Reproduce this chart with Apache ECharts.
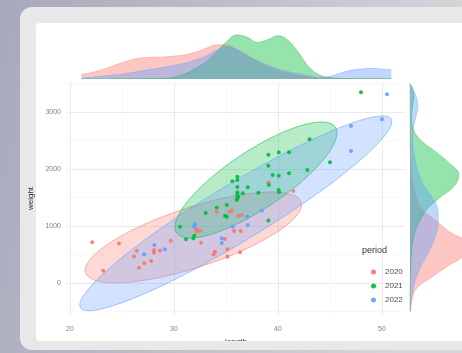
<!DOCTYPE html>
<html>
<head>
<meta charset="utf-8">
<script src="https://cdn.jsdelivr.net/npm/echarts@6/dist/echarts.min.js"></script>
<style>
  html, body { margin: 0; padding: 0; }
  #chart { width: 462px; height: 353px; }
</style>
</head>
<body>
<div id="chart"></div>
<script>
var periods = ['2020', '2021', '2022'];

var length2020 = [22.14, 24.71, 23.20, 26.42, 26.15, 28.08, 28.08, 28.65, 29.68, 27.79, 27.14, 26.63, 32.12, 32.18, 32.50, 32.60, 34.11, 35.32, 35.55, 36.18, 36.51, 35.77, 36.41, 34.90, 35.13, 33.94, 35.13, 36.35, 41.47, 39.07, 33.80];
var weight2020 = [714, 693, 216, 567, 465, 579, 535, 570, 742, 386, 346, 268, 942, 900, 917, 707, 1251, 1251, 1268, 1180, 1193, 912, 912, 772, 591, 549, 461, 538, 1614, 1763, 500];

var length2021 = [30.58, 31.15, 31.86, 31.95, 33.05, 34.11, 35.07, 34.90, 35.07, 36.18, 36.03, 39.07, 43.03, 39.07, 40.07, 41.06, 45.00, 42.82, 39.07, 39.49, 40.07, 41.06, 36.09, 36.09, 35.61, 39.13, 36.09, 37.09, 36.09, 36.09, 36.09, 38.11, 40.07, 40.10, 36.61, 47.98];
var weight2021 = [988, 767, 784, 830, 1228, 1324, 1368, 1180, 1163, 1514, 1456, 1096, 2522, 2250, 2292, 2292, 2117, 1982, 2057, 1894, 1882, 1924, 1865, 1807, 1784, 1719, 1684, 1679, 1591, 1544, 1486, 1584, 1631, 1591, 1573, 3345];

var length2022 = [27.12, 28.11, 29.13, 32.02, 31.92, 34.59, 34.59, 35.64, 37.05, 37.09, 38.46, 47.02, 47.02, 50.00, 50.48];
var weight2022 = [503, 667, 591, 1030, 991, 784, 702, 988, 1163, 1017, 1272, 2754, 2315, 2871, 3310];

// ellipse: [center length, center weight, half-axis length, half-axis weight, vertical half-chord]
var ellipse2020 = [31.87, 800, 10.4, 575, 550];
var ellipse2021 = [37.88, 1807, 7.79, 824, 596];
var ellipse2022 = [35.94, 1223, 15.0, 1606, 579];

// marginal density of length (top)
var densityX = [21.1, 23, 25, 27, 29, 30, 31, 32, 33, 34, 35, 36, 37, 38, 39, 40, 41, 42, 43, 44, 45, 46, 47, 48, 49, 50, 50.9];
var densityX2020 = [13, 27, 49, 64, 66, 69, 72, 80, 91, 102, 103, 88, 73, 53, 38, 26, 17, 11, 6, 3, 2, 1, 1, 1, 0.5, 0.3, 0.3];
var densityX2021 = [0, 0, 0.5, 1, 2, 5, 15, 30, 50, 78, 110, 132, 126, 110, 118, 130, 115, 78, 35, 12, 4, 2, 1, 1, 1, 1, 1];
var densityX2022 = [2, 8, 15, 25, 35, 41, 47, 57, 68, 85, 96, 90, 70, 55, 42, 30, 22, 16, 10, 4, 8, 18, 26, 30, 32, 30, 28];

// marginal density of weight (right)
var densityY = ['-500', '-300', '-100', '100', '300', '500', '700', '900', '1100', '1300', '1500', '1700', '1900', '2100', '2300', '2500', '2700', '2900', '3100', '3300', '3500'];
var densityY2020 = [2, 6, 20, 68, 120, 170, 175, 125, 80, 38, 20, 12, 5, 3, 1, 0, 0, 0, 0, 0, 0];
var densityY2021 = [0, 0, 0, 1, 2, 4, 8, 16, 32, 55, 95, 140, 155, 125, 82, 35, 10, 5, 8, 12, 0];
var densityY2022 = [1, 4, 10, 20, 35, 55, 72, 85, 90, 88, 70, 45, 28, 18, 12, 8, 10, 18, 25, 18, 0];

var COLORS = ['#F8766D', '#00BA38', '#619CFF'];
var FONT = 'Liberation Sans, Arial, sans-serif';

function zip(a, b) {
    var out = [];
    for (var i = 0; i < a.length; i++) out.push([a[i], b[i]]);
    return out;
}

function ellipseSeries(name, params, color) {
    return {
        type: 'custom',
        name: name,
        xAxisIndex: 0,
        yAxisIndex: 0,
        z: 1,
        silent: true,
        data: [params],
        encode: { x: 0, y: 1 },
        renderItem: function (p, api) {
            var cx = api.value(0), cy = api.value(1), ux = api.value(2), uy = api.value(3), vy = api.value(4);
            var pts = [];
            for (var k = 0; k < 90; k++) {
                var t = k / 90 * Math.PI * 2;
                pts.push(api.coord([cx + ux * Math.cos(t), cy + uy * Math.cos(t) + vy * Math.sin(t)]));
            }
            return {
                type: 'polygon',
                shape: { points: pts },
                style: { fill: echarts.color.modifyAlpha(color, 0.28), stroke: echarts.color.modifyAlpha(color, 0.7), lineWidth: 0.8 }
            };
        }
    };
}

function scatterSeries(name, xs, ys, color) {
    return {
        type: 'scatter',
        name: name,
        xAxisIndex: 0,
        yAxisIndex: 0,
        z: 3,
        symbolSize: 4,
        itemStyle: { color: color, opacity: 0.9 },
        data: zip(xs, ys)
    };
}

function topDensity(name, ys, color) {
    return {
        type: 'line',
        name: name,
        xAxisIndex: 1,
        yAxisIndex: 1,
        smooth: 0.4,
        showSymbol: false,
        silent: true,
        lineStyle: { color: echarts.color.modifyAlpha(color, 0.6), width: 0.6 },
        areaStyle: { color: echarts.color.modifyAlpha(color, 0.58) },
        data: zip(densityX, ys)
    };
}

function rightDensity(name, xs, color) {
    return {
        type: 'line',
        name: name,
        xAxisIndex: 2,
        yAxisIndex: 2,
        smooth: 0.4,
        showSymbol: false,
        silent: true,
        lineStyle: { color: echarts.color.modifyAlpha(color, 0.6), width: 0.6 },
        areaStyle: { color: echarts.color.modifyAlpha(color, 0.58) },
        data: xs
    };
}

var chart = echarts.init(document.getElementById('chart'));

chart.setOption({
    animation: false,
    textStyle: { fontFamily: FONT },
    graphic: [
        {
            type: 'rect', z: -100, silent: true,
            shape: { x: 0, y: 0, width: 462, height: 353 },
            style: { fill: new echarts.graphic.LinearGradient(0, 0, 1, 0.3, [
                { offset: 0, color: '#a7a8bb' },
                { offset: 1, color: '#d6d6da' }
            ]) }
        },
        {
            type: 'rect', z: -99, silent: true,
            shape: { x: 20, y: 7, width: 470, height: 343, r: 12 },
            style: { fill: '#e8e8e8' }
        },
        {
            type: 'rect', z: -98, silent: true,
            shape: { x: 36, y: 23, width: 440, height: 318, r: 4 },
            style: { fill: '#ffffff' }
        },
        {
            type: 'rect', z: 100, silent: true,
            shape: { x: 30, y: 341, width: 440, height: 9 },
            style: { fill: '#e8e8e8' }
        },
        {
            type: 'text', z: 100, silent: true,
            left: 362, top: 246,
            style: { text: 'period', fill: '#333333', font: '9px ' + FONT }
        }
    ],
    legend: {
        data: periods,
        orient: 'vertical',
        left: 366,
        top: 262,
        icon: 'circle',
        itemWidth: 5,
        itemHeight: 5,
        itemGap: 4,
        textStyle: { fontSize: 8, color: '#4d4d4d', lineHeight: 10, padding: [0, 0, 0, 4] }
    },
    grid: [
        { left: 67, right: 57, top: 82, bottom: 38 },
        { left: 67, right: 57, top: 34, height: 45 },
        { left: 410, width: 55, top: 83.5, bottom: 41.5 }
    ],
    xAxis: [
        {
            type: 'value', gridIndex: 0, min: 19.71, max: 52.21, splitNumber: 3,
            name: 'length', nameLocation: 'middle', nameGap: 20,
            nameTextStyle: { fontSize: 8, color: '#333333' },
            axisLine: { show: false }, axisTick: { show: false },
            axisLabel: { fontSize: 7, color: '#808080', margin: 11, showMinLabel: false, showMaxLabel: false },
            splitLine: { showMinLine: false, showMaxLine: false, lineStyle: { color: '#ebebeb', width: 1 } },
            minorTick: { show: false, splitNumber: 2 },
            minorSplitLine: { show: true, lineStyle: { color: '#f4f4f4', width: 0.6 } }
        },
        {
            type: 'value', gridIndex: 1, min: 19.71, max: 52.21, show: false
        },
        {
            type: 'value', gridIndex: 2, min: 0, max: 165, show: false
        }
    ],
    yAxis: [
        {
            type: 'value', gridIndex: 0, min: -560, max: 3525, splitNumber: 4,
            name: 'weight', nameLocation: 'middle', nameGap: 27, nameRotate: 90,
            nameTextStyle: { fontSize: 8, color: '#333333' },
            axisLine: { show: false }, axisTick: { show: false },
            axisLabel: {
                fontSize: 7, color: '#808080', margin: 6, showMinLabel: false, showMaxLabel: false,
                formatter: function (v) { return String(v); }
            },
            splitLine: { showMinLine: false, showMaxLine: false, lineStyle: { color: '#ebebeb', width: 1 } },
            minorTick: { show: false, splitNumber: 2 },
            minorSplitLine: { show: true, lineStyle: { color: '#f4f4f4', width: 0.6 } }
        },
        {
            type: 'value', gridIndex: 1, min: 0, max: 135, show: false
        },
        {
            type: 'category', gridIndex: 2, data: densityY, boundaryGap: false, show: false
        }
    ],
    series: [
        ellipseSeries('ellipse 2020', ellipse2020, COLORS[0]),
        ellipseSeries('ellipse 2021', ellipse2021, COLORS[1]),
        ellipseSeries('ellipse 2022', ellipse2022, COLORS[2]),
        scatterSeries('2020', length2020, weight2020, COLORS[0]),
        scatterSeries('2021', length2021, weight2021, COLORS[1]),
        scatterSeries('2022', length2022, weight2022, COLORS[2]),
        topDensity('length 2020', densityX2020, COLORS[0]),
        topDensity('length 2021', densityX2021, COLORS[1]),
        topDensity('length 2022', densityX2022, COLORS[2]),
        rightDensity('weight 2020', densityY2020, COLORS[0]),
        rightDensity('weight 2021', densityY2021, COLORS[1]),
        rightDensity('weight 2022', densityY2022, COLORS[2])
    ]
});
</script>
</body>
</html>
